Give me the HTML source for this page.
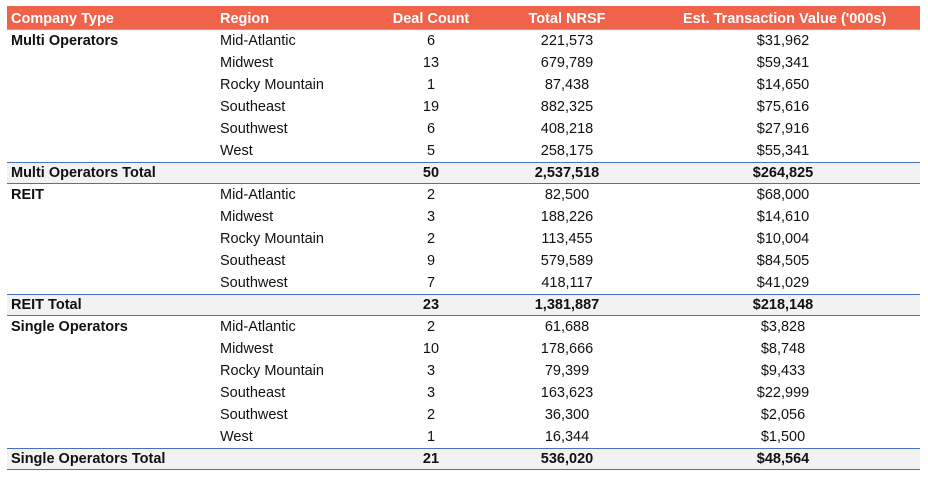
<!DOCTYPE html>
<html><head><style>
body{margin:0;background:#fff;font-family:"Liberation Sans",sans-serif;font-size:14.5px;color:#111;}
.t{position:absolute;left:7px;top:6px;width:913px;}
.r{position:relative;height:22px;line-height:22px;}
.h{background:#f0634b;color:#fff;font-weight:bold;border-bottom:1.5px solid #8eaadb;height:23px;line-height:26px;}
.tot{background:#f2f2f2;font-weight:bold;border-top:1.5px solid #4472c4;border-bottom:1.5px solid #4472c4;height:20px;line-height:20px;}
.r span{position:absolute;white-space:nowrap;}
.a{left:4px}.b{left:213px}
.c{left:374px;width:100px;text-align:center}
.d{left:510px;width:100px;text-align:center}
.e{left:676px;width:200px;text-align:center}
.g{font-weight:bold}
</style></head><body>
<div class="t">
<div class="r h"><span class="a">Company Type</span><span class="b">Region</span><span class="c">Deal Count</span><span class="d">Total NRSF</span><span class="e">Est. Transaction Value ('000s)</span></div>
<div class="r"><span class="a g">Multi Operators</span><span class="b">Mid-Atlantic</span><span class="c">6</span><span class="d">221,573</span><span class="e">$31,962</span></div>
<div class="r"><span class="b">Midwest</span><span class="c">13</span><span class="d">679,789</span><span class="e">$59,341</span></div>
<div class="r"><span class="b">Rocky Mountain</span><span class="c">1</span><span class="d">87,438</span><span class="e">$14,650</span></div>
<div class="r"><span class="b">Southeast</span><span class="c">19</span><span class="d">882,325</span><span class="e">$75,616</span></div>
<div class="r"><span class="b">Southwest</span><span class="c">6</span><span class="d">408,218</span><span class="e">$27,916</span></div>
<div class="r"><span class="b">West</span><span class="c">5</span><span class="d">258,175</span><span class="e">$55,341</span></div>
<div class="r tot"><span class="a">Multi Operators Total</span><span class="c">50</span><span class="d">2,537,518</span><span class="e">$264,825</span></div>
<div class="r"><span class="a g">REIT</span><span class="b">Mid-Atlantic</span><span class="c">2</span><span class="d">82,500</span><span class="e">$68,000</span></div>
<div class="r"><span class="b">Midwest</span><span class="c">3</span><span class="d">188,226</span><span class="e">$14,610</span></div>
<div class="r"><span class="b">Rocky Mountain</span><span class="c">2</span><span class="d">113,455</span><span class="e">$10,004</span></div>
<div class="r"><span class="b">Southeast</span><span class="c">9</span><span class="d">579,589</span><span class="e">$84,505</span></div>
<div class="r"><span class="b">Southwest</span><span class="c">7</span><span class="d">418,117</span><span class="e">$41,029</span></div>
<div class="r tot"><span class="a">REIT Total</span><span class="c">23</span><span class="d">1,381,887</span><span class="e">$218,148</span></div>
<div class="r"><span class="a g">Single Operators</span><span class="b">Mid-Atlantic</span><span class="c">2</span><span class="d">61,688</span><span class="e">$3,828</span></div>
<div class="r"><span class="b">Midwest</span><span class="c">10</span><span class="d">178,666</span><span class="e">$8,748</span></div>
<div class="r"><span class="b">Rocky Mountain</span><span class="c">3</span><span class="d">79,399</span><span class="e">$9,433</span></div>
<div class="r"><span class="b">Southeast</span><span class="c">3</span><span class="d">163,623</span><span class="e">$22,999</span></div>
<div class="r"><span class="b">Southwest</span><span class="c">2</span><span class="d">36,300</span><span class="e">$2,056</span></div>
<div class="r"><span class="b">West</span><span class="c">1</span><span class="d">16,344</span><span class="e">$1,500</span></div>
<div class="r tot"><span class="a">Single Operators Total</span><span class="c">21</span><span class="d">536,020</span><span class="e">$48,564</span></div>
</div>
</body></html>
